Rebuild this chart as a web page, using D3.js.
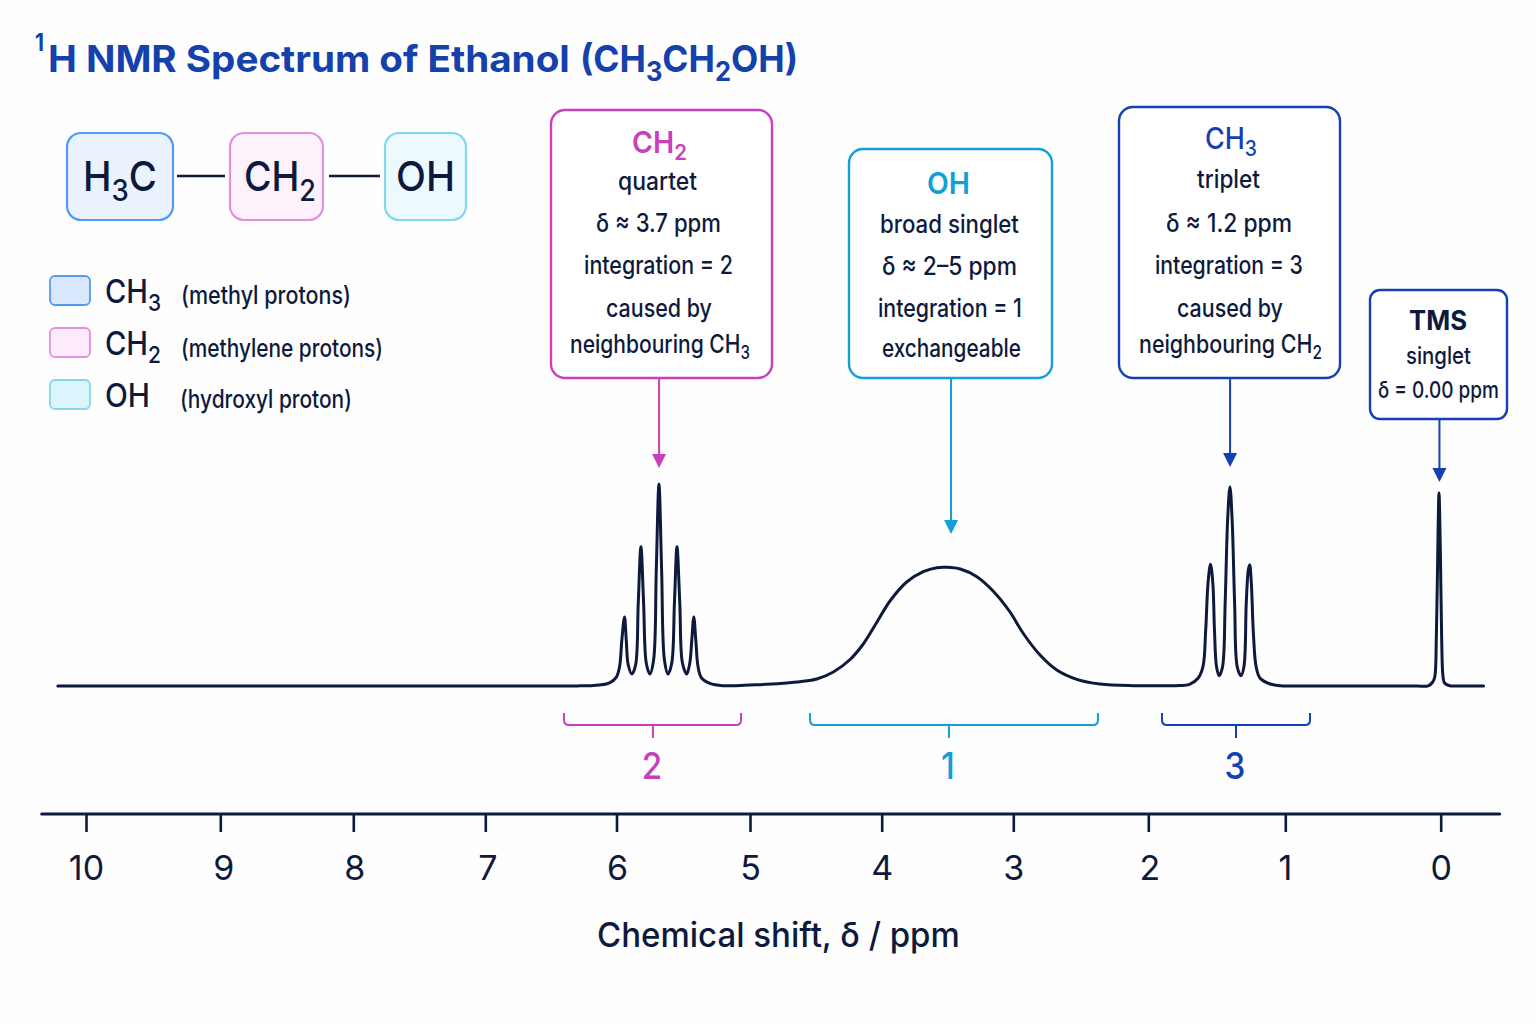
<!DOCTYPE html>
<html>
<head>
<meta charset="utf-8">
<script src="https://cdn.jsdelivr.net/npm/d3@7/dist/d3.min.js"></script>
<style>
html,body{margin:0;padding:0;background:#fefefe;}
svg{display:block;}
text{font-family:Inter,"Noto Sans",sans-serif;}
</style>
</head>
<body>
<svg id="c" width="1536" height="1024"></svg>
<script>
// ---------- data ----------
const tickValues = [10,9,8,7,6,5,4,3,2,1,0];
const tickLabels = ["10","9","8","7","6","5","4","3","2","1","0"];
const spectrumPpm = [10.21,9,8,7,6.6,6.4,6.3,6.205,6.129,6.053,6.002,5.977,5.960,5.940,5.927,5.912,5.885,5.857,5.837,5.817,5.797,5.777,5.750,5.722,5.702,5.682,5.662,5.641,5.614,5.586,5.566,5.547,5.526,5.506,5.474,5.451,5.436,5.421,5.406,5.389,5.363,5.301,5.203,5.127,5.0,4.873,4.620,4.493,4.367,4.240,4.140,4.038,3.937,3.810,3.684,3.582,3.506,3.403,3.277,3.152,3.025,2.926,2.802,2.678,2.530,2.358,2.111,1.866,1.772,1.699,1.637,1.601,1.581,1.564,1.546,1.529,1.517,1.502,1.483,1.458,1.439,1.421,1.404,1.388,1.370,1.351,1.324,1.302,1.285,1.270,1.260,1.248,1.233,1.213,1.184,1.110,1.037,0.95,0.8,0.6,0.4,0.25,0.15,0.081,0.051,0.038,0.028,0.019,0.011,0.002,-0.006,-0.015,-0.025,-0.058,-0.1,-0.15,-0.2,-0.276];
const spectrumInt = [0,0,0,0,0,0,0.05,0.15,0.5,1.6,4.3,9.6,23,34.5,23,10.5,6,10.5,41.5,69.6,41.5,11.5,6,13,58,101,58,13,6,11.5,41.5,69.6,41.5,11.5,6,11.5,23,34.5,23,9.6,4,1.35,0.15,0.15,0.5,0.85,2.15,3.5,7,13.25,21,31.75,42.5,52,57.15,59.15,59.35,58.5,54.65,47.4,37,26.25,15.5,8,3.35,1,0.15,0.15,0.25,0.85,3.85,9.65,28,51.5,60.85,51.5,28,9.65,5.15,9.65,41.5,83,99.65,83,41.5,9.65,5.15,9.65,41.5,58,60.65,51.5,26.5,9.65,3.85,1,0.1,0,0,0,0,0,0,0.1,2,4.65,24.65,66.5,96.5,66.5,24.65,4.65,1.5,0.1,0,0,0,0];
const groupNames = ["CH2","OH","CH3"];
const integrals = ["2","1","3"];
const bracketFrom = [6.400,4.544,1.900];
const bracketTo = [5.067,2.373,0.841];
const bracketMid = [5.727,3.489,1.360];
const arrowPpm = [5.681,3.473,1.403,0.008];
const titleMark = "1";
const titleWords = "H NMR Spectrum of Ethanol";
const titleFormula = "(CH_3CH_2OH)";
const axisTitle = "Chemical shift, δ / ppm";

// ---------- palette ----------
const ink = "#0e1a3d";
const magenta = "#c93fbe", cyan = "#12a0d6", blue = "#1440b4";
const groupColor = [magenta, cyan, blue, blue];

// ---------- layout ----------
const tickPixels = [86,220.3,353.3,485.3,616.5,750,881.7,1013.3,1148.3,1285.3,1440.7];
const tickLabelShift = [0,3,1,2,0.5,0,0,0,1,-0.5,0];
const x = d3.scaleLinear().domain(tickValues).range(tickPixels);
const y = d3.scaleLinear().domain([0,100]).range([686,486]);
const axisY = 814;
const cards = [
  {x0:551,x1:772,y0:110,y1:378,r:14,c:magenta},
  {x0:849,x1:1052,y0:149,y1:378,r:14,c:cyan},
  {x0:1119,x1:1340,y0:107,y1:378,r:14,c:blue},
  {x0:1370,x1:1507,y0:290,y1:419,r:10,c:blue}
];
const arrowFromY = [378,378,378,419];
const arrowTipY = [468,534,467,482];
const chemBoxes = [
  {x0:67,x1:173,y0:133,y1:220,s:"#4f9cf2",f:"#eaf3fd"},
  {x0:230,x1:323,y0:133,y1:220,s:"#e391dd",f:"#fdf1fc"},
  {x0:385,x1:466,y0:133,y1:220,s:"#82d7ec",f:"#ecfaff"}
];
const bonds = [[177,225,176],[329,380,176]];
const swatches = [
  {x:50,y:276,s:"#4f9cf2",f:"#d8e7fb"},
  {x:50,y:328,s:"#e391dd",f:"#fdeafa"},
  {x:50,y:380,s:"#82d7ec",f:"#dcf4fb"}
];
const body = 450;
// text, left, right, baseline, size, weight, colour
const rows = [
  [titleMark,35,44,51,24,700,"#1441ab"],
  [titleWords,48,570,72,37,700,"#1441ab"],
  [titleFormula,580,798,72,37,700,"#1441ab"],
  ["H_3C",83,157,191,41,body,ink],
  ["CH_2",244,316,191,41,body,ink],
  ["OH",396,455,191,41,body,ink],
  ["CH_3",105,161,303,32,body,ink],
  ["CH_2",105,161,355,32,body,ink],
  ["OH",105,150,407,32,body,ink],
  ["(methyl protons)",181,351,304,25,body,ink],
  ["(methylene protons)",181,383,357,25,body,ink],
  ["(hydroxyl proton)",180,352,408,25,body,ink],
  ["CH_2",632,687,153,30,600,magenta],
  ["quartet",618,697,190,25,body,ink],
  ["δ ≈ 3.7 ppm",596,721,232,25,body,ink],
  ["integration = 2",584,733,274,25,body,ink],
  ["caused by",606,712,317,25,body,ink],
  ["neighbouring CH_3",570,750,353,25,body,ink],
  ["OH",927,970,194,30,600,cyan],
  ["broad singlet",880,1019,233,25,body,ink],
  ["δ ≈ 2–5 ppm",882,1017,275,25,body,ink],
  ["integration = 1",878,1022,317,25,body,ink],
  ["exchangeable",882,1021,357,25,body,ink],
  ["CH_3",1205,1257,149,30,500,blue],
  ["triplet",1197,1260,188,25,body,ink],
  ["δ ≈ 1.2 ppm",1166,1292,232,25,body,ink],
  ["integration = 3",1155,1303,274,25,body,ink],
  ["caused by",1177,1283,317,25,body,ink],
  ["neighbouring CH_2",1139,1322,353,25,body,ink],
  ["TMS",1409,1467,330,27,700,ink],
  ["singlet",1406,1471,364,24,body,ink],
  ["δ = 0.00 ppm",1378,1499,398,23,body,ink],
  [axisTitle,597,960,947,34,body,ink]
];

// ---------- drawing ----------
const svg = d3.select("#c");

function addRich(sel, str, size){
  const re = /_(\d)/g;
  let last = 0, m, pending = 0;
  const push = (t, dy, fs) => {
    const ts = sel.append("tspan").text(t).attr("font-size", fs);
    if (dy) ts.attr("dy", dy);
  };
  while ((m = re.exec(str))) {
    if (m.index > last) { push(str.slice(last, m.index), pending, size); pending = 0; }
    const off = size*0.24;
    push(m[1], off + pending, size*0.72);
    pending = -off;
    last = m.index + m[0].length;
  }
  if (last < str.length) push(str.slice(last), pending, size);
}

// chemistry boxes & bonds
svg.append("g").selectAll("rect").data(chemBoxes).join("rect")
  .attr("x",d=>d.x0).attr("y",d=>d.y0).attr("width",d=>d.x1-d.x0).attr("height",d=>d.y1-d.y0)
  .attr("rx",14).attr("fill",d=>d.f).attr("stroke",d=>d.s).attr("stroke-width",2.2);
svg.append("g").selectAll("line").data(bonds).join("line")
  .attr("x1",d=>d[0]).attr("x2",d=>d[1]).attr("y1",d=>d[2]).attr("y2",d=>d[2])
  .attr("stroke",ink).attr("stroke-width",2.6);

// legend
svg.append("g").selectAll("rect").data(swatches).join("rect")
  .attr("x",d=>d.x).attr("y",d=>d.y).attr("width",40).attr("height",29)
  .attr("rx",5).attr("fill",d=>d.f).attr("stroke",d=>d.s).attr("stroke-width",1.8);

// callout cards
svg.append("g").selectAll("rect").data(cards).join("rect")
  .attr("x",d=>d.x0).attr("y",d=>d.y0).attr("width",d=>d.x1-d.x0).attr("height",d=>d.y1-d.y0)
  .attr("rx",d=>d.r).attr("fill","#ffffff").attr("stroke",d=>d.c).attr("stroke-width",2.4);

// arrows
const arrows = svg.append("g").selectAll("g").data(arrowPpm).join("g");
arrows.append("line")
  .attr("x1",d=>x(d)).attr("x2",d=>x(d))
  .attr("y1",(d,i)=>arrowFromY[i]).attr("y2",(d,i)=>arrowTipY[i]-8)
  .attr("stroke",(d,i)=>groupColor[i]).attr("stroke-width",2);
arrows.append("path")
  .attr("d",(d,i)=>{const X=x(d),T=arrowTipY[i];return `M${X},${T}L${X-7},${T-14}L${X+7},${T-14}Z`;})
  .attr("fill",(d,i)=>groupColor[i]);

// spectrum
const line = d3.line().x(d=>x(d[0])).y(d=>y(d[1])).curve(d3.curveCatmullRom.alpha(0.5));
svg.append("path").datum(d3.zip(spectrumPpm,spectrumInt))
  .attr("d",line).attr("fill","none").attr("stroke",ink).attr("stroke-width",3)
  .attr("stroke-linejoin","round").attr("stroke-linecap","round");

// integration brackets
const brackets = svg.append("g").selectAll("g").data(groupNames).join("g")
  .attr("fill","none").attr("stroke",(d,i)=>groupColor[i]).attr("stroke-width",2);
brackets.append("path").attr("d",(d,i)=>{
  const a=x(bracketFrom[i]),b=x(bracketTo[i]);
  return `M${a},713V720Q${a},725 ${a+5},725H${b-5}Q${b},725 ${b},720V713`;
});
brackets.append("line").attr("x1",(d,i)=>x(bracketMid[i])).attr("x2",(d,i)=>x(bracketMid[i]))
  .attr("y1",725).attr("y2",738);
svg.append("g").selectAll("text").data(integrals).join("text")
  .attr("transform",(d,i)=>`translate(${x(bracketMid[i])-1},779) scale(0.9,1)`)
  .attr("text-anchor","middle").attr("font-size",37).attr("font-weight",500)
  .attr("fill",(d,i)=>groupColor[i]).text(d=>d);

// axis
const axisG = svg.append("g").attr("transform",`translate(0,${axisY})`)
  .call(d3.axisBottom(x).tickValues(tickValues).tickSize(18).tickPadding(24)
    .tickFormat((d,i)=>tickLabels[i]));
axisG.select(".domain").remove();
axisG.selectAll(".tick line").attr("stroke",ink).attr("stroke-width",2.6);
axisG.selectAll(".tick text").attr("fill",ink).attr("font-size",34).attr("font-weight",420)
  .attr("font-family","Inter").attr("x",(d,i)=>tickLabelShift[i]);
svg.append("line").attr("x1",x(10.33)).attr("x2",x(-0.38)).attr("y1",axisY).attr("y2",axisY)
  .attr("stroke",ink).attr("stroke-width",3).attr("stroke-linecap","round");

// all fitted text
svg.append("g").selectAll("text").data(rows).join("text")
  .attr("fill",d=>d[6]).attr("font-weight",d=>d[5])
  .each(function(d){
    const t = d3.select(this);
    addRich(t, d[0], d[4]);
    const w = this.getComputedTextLength();
    t.attr("transform",`translate(${d[1]},${d[3]}) scale(${(d[2]-d[1])/w},1)`);
  });
</script>
</body>
</html>
